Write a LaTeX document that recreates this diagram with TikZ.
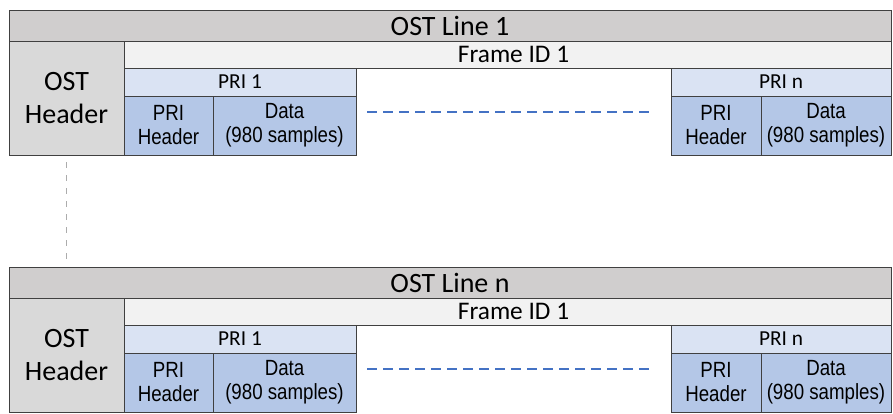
\documentclass[tikz,border=0pt]{standalone}
\usepackage{fontspec}
\setmainfont{Carlito}
\newfontfamily\arialfont[FakeStretch=0.85]{Liberation Sans}
\usetikzlibrary{positioning}
\definecolor{edgeGray}{HTML}{404040}
\definecolor{barGray}{HTML}{D0CECE}
\definecolor{headGray}{HTML}{D9D9D9}
\definecolor{frameGray}{HTML}{F2F2F2}
\definecolor{priBlue}{HTML}{DAE3F3}
\definecolor{dataBlue}{HTML}{B4C7E7}
\definecolor{dashBlue}{HTML}{4472C4}
\tikzstyle{cell} = [draw=edgeGray, line width=0.75pt, inner sep=0pt, outer sep=0pt, anchor=north west, align=center]
\tikzstyle{celltext} = [font=\arialfont\fontsize{16.5}{18}\selectfont]
\tikzstyle{gapline} = [dashBlue, line width=1.5pt, dash pattern=on 7.5pt off 4.5pt]
\tikzstyle{linkline} = [gray!65, line width=1.3pt, dash pattern=on 4.5pt off 5.25pt]

\begin{document}
\begin{tikzpicture}[x=0.75pt, y=-0.75pt]
\useasboundingbox (0,0) rectangle (893,414);
\foreach \i/\dy/\lbl in {1/0/1, 2/257/n} {
  \node [cell, fill=barGray, minimum width=661.5pt, minimum height=23.25pt, font=\fontsize{21}{24}\selectfont] (bar\i) at (9, 10+\dy) {OST Line \lbl};
  \node [cell, fill=frameGray, minimum width=575.25pt, minimum height=20.25pt, font=\fontsize{19}{22}\selectfont] (frame\i) at (124, 41+\dy) {\hspace*{9pt}Frame ID 1};
  \node [cell, fill=headGray, minimum width=86.25pt, minimum height=85.5pt, font=\fontsize{21}{24.75}\selectfont] (oh\i) at (9, 41+\dy) {OST\\Header};
  % first PRI
  \node [cell, fill=priBlue, minimum width=174pt, minimum height=21pt, font=\fontsize{16}{19}\selectfont] (prifirst\i) at (124, 68+\dy) {PRI 1};
  \node [cell, celltext, fill=dataBlue, minimum width=66.75pt, minimum height=44.25pt] (phfirst\i) at (124, 96+\dy) {PRI\\Header};
  \node [cell, celltext, fill=dataBlue, minimum width=107.25pt, minimum height=44.25pt] (pdfirst\i) at (213, 96+\dy) {Data\\(980 samples)};
  % last PRI
  \node [cell, fill=priBlue, minimum width=165pt, minimum height=21pt, font=\fontsize{16}{19}\selectfont] (prilast\i) at (671, 68+\dy) {PRI n};
  \node [cell, celltext, fill=dataBlue, minimum width=67.5pt, minimum height=44.25pt] (phlast\i) at (671, 96+\dy) {PRI\\Header};
  \node [cell, celltext, fill=dataBlue, minimum width=97.5pt, minimum height=44.25pt] (pdlast\i) at (761, 96+\dy) {Data\\(980 samples)};
  \coordinate (dashL\i) at (367, 112+\dy);
  \coordinate (dashR\i) at (652, 112+\dy);
  \draw [gapline] (dashL\i) -- (dashR\i);
}
\draw [linkline, shorten <=5.25pt, shorten >=5.25pt] (oh1.south) -- (oh1.south |- bar2.north);
\end{tikzpicture}
\end{document}
